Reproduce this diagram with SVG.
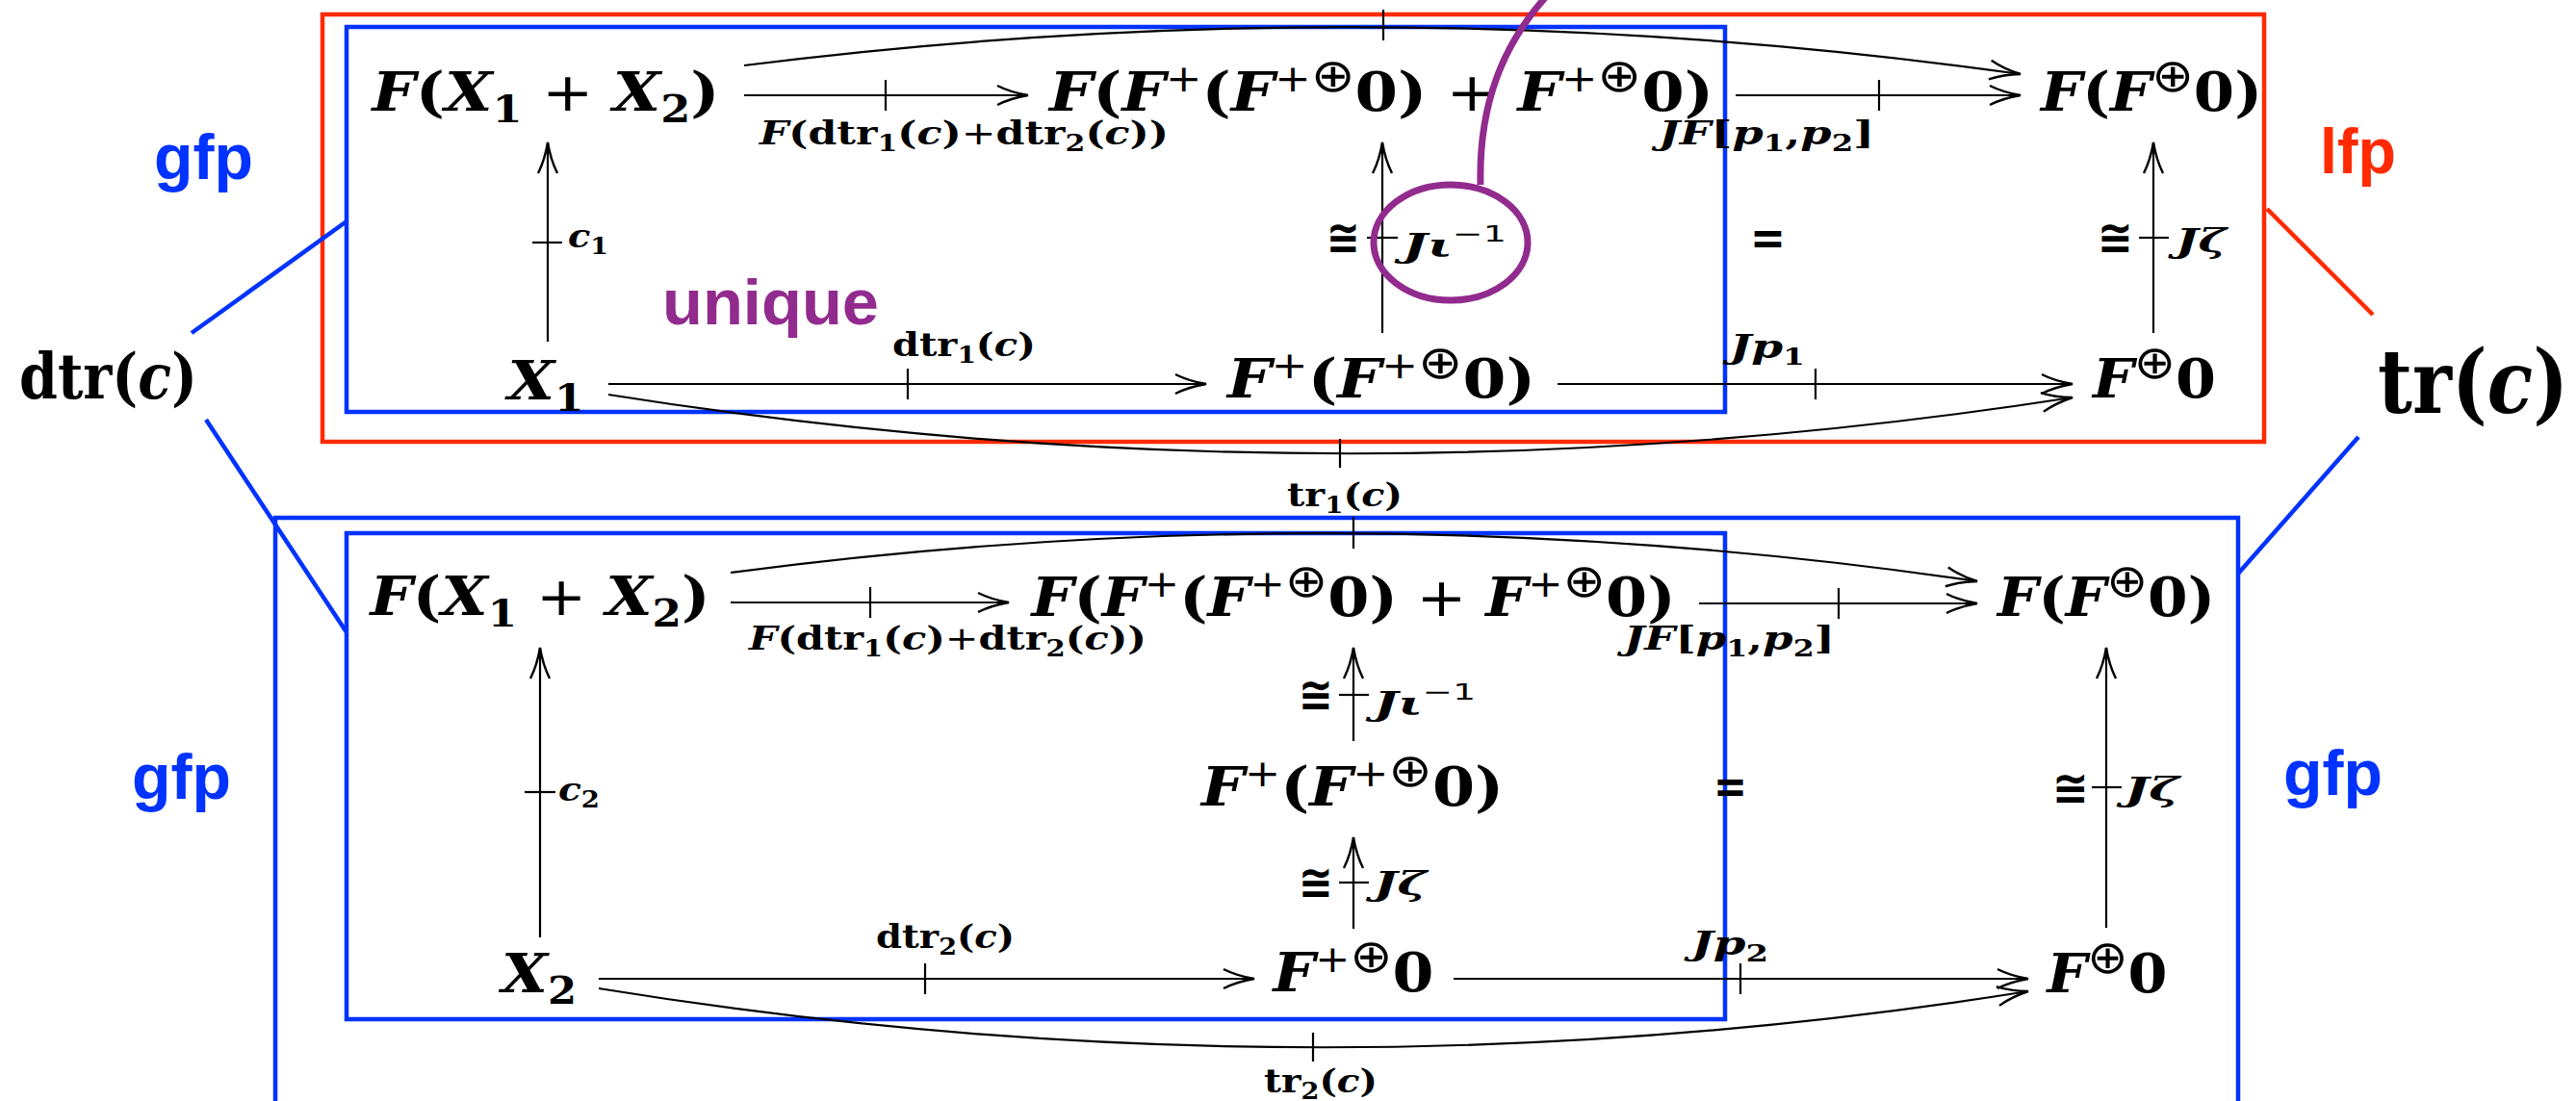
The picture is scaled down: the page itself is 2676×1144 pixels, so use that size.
<svg xmlns="http://www.w3.org/2000/svg" width="2676" height="1144" viewBox="0 0 2676 1144">
<defs>
<style>
text{font-family:"DejaVu Serif","Liberation Serif",serif;font-weight:bold;fill:#000}
.i{font-style:italic}
.node{font-size:56px}
.lbl{font-size:34px}
.s{font-size:0.7em}
.o{font-family:"DejaVu Sans",sans-serif;font-weight:normal}
.ox{font-family:"DejaVu Sans",sans-serif;font-weight:normal;font-size:48px}
.cong{font-family:"DejaVu Sans",sans-serif;font-weight:bold;font-size:50px}
.big{font-family:"Liberation Sans",Arial,sans-serif;font-weight:bold;font-size:66px}
.ar{fill:none;stroke:#000;stroke-width:2.2}
.box{fill:none;stroke-width:4.5}
.red{stroke:#FF2A00}
.blue{stroke:#0033FF}
</style>
<marker id="ah" markerUnits="userSpaceOnUse" markerWidth="40" markerHeight="30" viewBox="-36 -15 40 30" refX="0" refY="0" orient="auto" overflow="visible">
<path d="M-32,-10 C-18,-3 -6,-1 0,0 C-6,1 -18,3 -32,10" fill="none" stroke="#000" stroke-width="2.4"/>
</marker>
</defs>
<rect width="2676" height="1144" fill="#fff"/>

<g id="frames">
<rect class="box red" x="335" y="15" width="2017" height="444"/>
<rect class="box blue" x="360" y="28" width="1432" height="400"/>
<rect class="box blue" x="286" y="538" width="2039" height="640"/>
<rect class="box blue" x="360" y="554" width="1432" height="505"/>
<line class="box blue" x1="199" y1="346" x2="360" y2="230"/>
<line class="box blue" x1="214" y1="436" x2="360" y2="657"/>
<line class="box red" x1="2355" y1="217" x2="2465" y2="327"/>
<line class="box blue" x1="2450" y1="454" x2="2325" y2="596"/>
</g>

<g id="tags">
<text class="big" x="160" y="186" style="fill:#0033FF" textLength="103" lengthAdjust="spacingAndGlyphs">gfp</text>
<text class="big" x="2410" y="180" style="fill:#FF2A00" textLength="79" lengthAdjust="spacingAndGlyphs">lfp</text>
<text class="big" x="137" y="830" style="fill:#0033FF" textLength="103" lengthAdjust="spacingAndGlyphs">gfp</text>
<text class="big" x="2372" y="826" style="fill:#0033FF" textLength="103" lengthAdjust="spacingAndGlyphs">gfp</text>
<text class="big" x="688" y="337" style="fill:#922B8E" textLength="225" lengthAdjust="spacingAndGlyphs">unique</text>
<text x="20" y="414" style="font-size:66px" textLength="185" lengthAdjust="spacingAndGlyphs">dtr(<tspan class="i">c</tspan>)</text>
<text x="2470" y="429" style="font-size:92px" textLength="198" lengthAdjust="spacingAndGlyphs">tr(<tspan class="i">c</tspan>)</text>
</g>

<g id="node-top-FX">
<text class="node" x="567" y="115" text-anchor="middle" textLength="361" lengthAdjust="spacingAndGlyphs"><tspan class="i">F</tspan>(<tspan class="i">X</tspan><tspan class="s" dy="12">1</tspan><tspan dy="-12" class="o"> + </tspan><tspan class="i">X</tspan><tspan class="s" dy="12">2</tspan><tspan dy="-12">)</tspan></text>
</g>
<g id="node-top-FF">
<text class="node" x="1435" y="115" text-anchor="middle" textLength="690" lengthAdjust="spacingAndGlyphs"><tspan class="i">F</tspan>(<tspan class="i">F</tspan><tspan class="s o" dy="-20">+</tspan><tspan dy="20">(</tspan><tspan class="i">F</tspan><tspan class="s o" dy="-20">+</tspan><tspan class="ox">⊕</tspan><tspan dy="20">0)</tspan><tspan class="o"> + </tspan><tspan class="i">F</tspan><tspan class="s o" dy="-20">+</tspan><tspan class="ox">⊕</tspan><tspan dy="20">0)</tspan></text>
</g>
<g id="node-top-FF0">
<text class="node" x="2235" y="115" text-anchor="middle" textLength="230" lengthAdjust="spacingAndGlyphs"><tspan class="i">F</tspan>(<tspan class="i">F</tspan><tspan class="ox" dy="-20">⊕</tspan><tspan dy="20">0)</tspan></text>
</g>
<g id="node-top-X1">
<text class="node" x="567" y="415" text-anchor="middle" textLength="79" lengthAdjust="spacingAndGlyphs"><tspan class="i">X</tspan><tspan class="s" dy="12">1</tspan></text>
</g>
<g id="node-top-Fp">
<text class="node" x="1435" y="413" text-anchor="middle" textLength="320" lengthAdjust="spacingAndGlyphs"><tspan class="i">F</tspan><tspan class="s o" dy="-20">+</tspan><tspan dy="20">(</tspan><tspan class="i">F</tspan><tspan class="s o" dy="-20">+</tspan><tspan class="ox">⊕</tspan><tspan dy="20">0)</tspan></text>
</g>
<g id="node-top-F0">
<text class="node" x="2238" y="413" text-anchor="middle" textLength="128" lengthAdjust="spacingAndGlyphs"><tspan class="i">F</tspan><tspan class="ox" dy="-20">⊕</tspan><tspan dy="20">0</tspan></text>
</g>

<g id="node-bot-FX">
<text class="node" x="561" y="639" text-anchor="middle" textLength="353" lengthAdjust="spacingAndGlyphs"><tspan class="i">F</tspan>(<tspan class="i">X</tspan><tspan class="s" dy="12">1</tspan><tspan dy="-12" class="o"> + </tspan><tspan class="i">X</tspan><tspan class="s" dy="12">2</tspan><tspan dy="-12">)</tspan></text>
</g>
<g id="node-bot-FF">
<text class="node" x="1406" y="640" text-anchor="middle" textLength="669" lengthAdjust="spacingAndGlyphs"><tspan class="i">F</tspan>(<tspan class="i">F</tspan><tspan class="s o" dy="-20">+</tspan><tspan dy="20">(</tspan><tspan class="i">F</tspan><tspan class="s o" dy="-20">+</tspan><tspan class="ox">⊕</tspan><tspan dy="20">0)</tspan><tspan class="o"> + </tspan><tspan class="i">F</tspan><tspan class="s o" dy="-20">+</tspan><tspan class="ox">⊕</tspan><tspan dy="20">0)</tspan></text>
</g>
<g id="node-bot-FF0">
<text class="node" x="2188" y="640" text-anchor="middle" textLength="226" lengthAdjust="spacingAndGlyphs"><tspan class="i">F</tspan>(<tspan class="i">F</tspan><tspan class="ox" dy="-20">⊕</tspan><tspan dy="20">0)</tspan></text>
</g>
<g id="node-bot-Fp">
<text class="node" x="1405" y="837" text-anchor="middle" textLength="314" lengthAdjust="spacingAndGlyphs"><tspan class="i">F</tspan><tspan class="s o" dy="-20">+</tspan><tspan dy="20">(</tspan><tspan class="i">F</tspan><tspan class="s o" dy="-20">+</tspan><tspan class="ox">⊕</tspan><tspan dy="20">0)</tspan></text>
</g>
<g id="node-bot-X2">
<text class="node" x="560" y="1031" text-anchor="middle" textLength="78" lengthAdjust="spacingAndGlyphs"><tspan class="i">X</tspan><tspan class="s" dy="12">2</tspan></text>
</g>
<g id="node-bot-Fp0">
<text class="node" x="1406" y="1030" text-anchor="middle" textLength="167" lengthAdjust="spacingAndGlyphs"><tspan class="i">F</tspan><tspan class="s o" dy="-20">+</tspan><tspan class="ox">⊕</tspan><tspan dy="20">0</tspan></text>
</g>
<g id="node-bot-F0">
<text class="node" x="2189" y="1031" text-anchor="middle" textLength="125" lengthAdjust="spacingAndGlyphs"><tspan class="i">F</tspan><tspan class="ox" dy="-20">⊕</tspan><tspan dy="20">0</tspan></text>
</g>

<g id="connectors">
<line class="ar" x1="773" y1="99" x2="1068" y2="99" marker-end="url(#ah)"/>
<line class="ar" x1="920" y1="83" x2="920" y2="115"/>
<line class="ar" x1="1803" y1="99" x2="2099" y2="99" marker-end="url(#ah)"/>
<line class="ar" x1="1952" y1="83" x2="1952" y2="115"/>
<line class="ar" x1="632" y1="399" x2="1253" y2="399" marker-end="url(#ah)"/>
<line class="ar" x1="943" y1="383" x2="943" y2="415"/>
<line class="ar" x1="1618" y1="399" x2="2153" y2="399" marker-end="url(#ah)"/>
<line class="ar" x1="1886" y1="383" x2="1886" y2="415"/>
<path class="ar" d="M773,68 Q1437,-16 2099,77" marker-end="url(#ah)"/>
<line class="ar" x1="1437" y1="10" x2="1437" y2="42"/>
<path class="ar" d="M632,410 Q1392,531 2153,413" marker-end="url(#ah)"/>
<line class="ar" x1="1392" y1="456" x2="1392" y2="486"/>
<line class="ar" x1="569" y1="355" x2="569" y2="148" marker-end="url(#ah)"/>
<line class="ar" x1="553" y1="252" x2="584" y2="252"/>
<line class="ar" x1="1436" y1="346" x2="1436" y2="148" marker-end="url(#ah)"/>
<line class="ar" x1="1420" y1="247" x2="1452" y2="247"/>
<line class="ar" x1="2237" y1="346" x2="2237" y2="148" marker-end="url(#ah)"/>
<line class="ar" x1="2222" y1="247" x2="2253" y2="247"/>
<line class="ar" x1="759" y1="626" x2="1048" y2="626" marker-end="url(#ah)"/>
<line class="ar" x1="904" y1="610" x2="904" y2="642"/>
<line class="ar" x1="1765" y1="627" x2="2054" y2="627" marker-end="url(#ah)"/>
<line class="ar" x1="1910" y1="611" x2="1910" y2="643"/>
<line class="ar" x1="622" y1="1017" x2="1303" y2="1017" marker-end="url(#ah)"/>
<line class="ar" x1="961" y1="1001" x2="961" y2="1033"/>
<line class="ar" x1="1510" y1="1017" x2="2107" y2="1017" marker-end="url(#ah)"/>
<line class="ar" x1="1808" y1="1001" x2="1808" y2="1033"/>
<path class="ar" d="M759,595 Q1406,509 2054,604" marker-end="url(#ah)"/>
<line class="ar" x1="1406" y1="537" x2="1406" y2="570"/>
<path class="ar" d="M622,1027 Q1364,1148 2107,1030" marker-end="url(#ah)"/>
<line class="ar" x1="1364" y1="1073" x2="1364" y2="1103"/>
<line class="ar" x1="561" y1="974" x2="561" y2="673" marker-end="url(#ah)"/>
<line class="ar" x1="545" y1="823" x2="577" y2="823"/>
<line class="ar" x1="1406" y1="770" x2="1406" y2="673" marker-end="url(#ah)"/>
<line class="ar" x1="1391" y1="722" x2="1422" y2="722"/>
<line class="ar" x1="1406" y1="965" x2="1406" y2="870" marker-end="url(#ah)"/>
<line class="ar" x1="1391" y1="917" x2="1422" y2="917"/>
<line class="ar" x1="2188" y1="964" x2="2188" y2="673" marker-end="url(#ah)"/>
<line class="ar" x1="2173" y1="818" x2="2204" y2="818"/>
</g>

<g id="labels">
<text class="lbl" x="789" y="150" textLength="425" lengthAdjust="spacingAndGlyphs"><tspan class="i">F</tspan>(dtr<tspan class="s" dy="7">1</tspan><tspan dy="-7">(</tspan><tspan class="i">c</tspan>)<tspan class="o">+</tspan>dtr<tspan class="s" dy="7">2</tspan><tspan dy="-7">(</tspan><tspan class="i">c</tspan>))</text>
<text class="lbl" x="1723" y="150" textLength="224" lengthAdjust="spacingAndGlyphs"><tspan class="i">JF</tspan>[<tspan class="i">p</tspan><tspan class="s" dy="7">1</tspan><tspan dy="-7">,</tspan><tspan class="i">p</tspan><tspan class="s" dy="7">2</tspan><tspan dy="-7">]</tspan></text>
<text class="lbl" x="927" y="370" textLength="149" lengthAdjust="spacingAndGlyphs">dtr<tspan class="s" dy="7">1</tspan><tspan dy="-7">(</tspan><tspan class="i">c</tspan>)</text>
<text class="lbl" x="1797" y="372" textLength="78" lengthAdjust="spacingAndGlyphs"><tspan class="i">Jp</tspan><tspan class="s" dy="7">1</tspan></text>
<text class="lbl" x="1397" y="526" text-anchor="middle" textLength="120" lengthAdjust="spacingAndGlyphs">tr<tspan class="s" dy="7">1</tspan><tspan dy="-7">(</tspan><tspan class="i">c</tspan>)</text>
<text class="lbl" x="590" y="257" textLength="42" lengthAdjust="spacingAndGlyphs"><tspan class="i">c</tspan><tspan class="s" dy="7">1</tspan></text>
<text class="cong" x="1378" y="264" textLength="35" lengthAdjust="spacingAndGlyphs">≅</text>
<text class="lbl" x="1457" y="267" textLength="108" lengthAdjust="spacingAndGlyphs"><tspan class="i">Jι</tspan><tspan class="s o" dy="-16">−1</tspan></text>
<text class="cong" x="1818" y="264" textLength="37" lengthAdjust="spacingAndGlyphs">=</text>
<text class="cong" x="2179" y="264" textLength="37" lengthAdjust="spacingAndGlyphs">≅</text>
<text class="lbl" x="2260" y="262" textLength="53" lengthAdjust="spacingAndGlyphs"><tspan class="i">Jζ</tspan></text>

<text class="lbl" x="778" y="675" textLength="413" lengthAdjust="spacingAndGlyphs"><tspan class="i">F</tspan>(dtr<tspan class="s" dy="7">1</tspan><tspan dy="-7">(</tspan><tspan class="i">c</tspan>)<tspan class="o">+</tspan>dtr<tspan class="s" dy="7">2</tspan><tspan dy="-7">(</tspan><tspan class="i">c</tspan>))</text>
<text class="lbl" x="1687" y="675" textLength="219" lengthAdjust="spacingAndGlyphs"><tspan class="i">JF</tspan>[<tspan class="i">p</tspan><tspan class="s" dy="7">1</tspan><tspan dy="-7">,</tspan><tspan class="i">p</tspan><tspan class="s" dy="7">2</tspan><tspan dy="-7">]</tspan></text>
<text class="lbl" x="910" y="985" textLength="144" lengthAdjust="spacingAndGlyphs">dtr<tspan class="s" dy="7">2</tspan><tspan dy="-7">(</tspan><tspan class="i">c</tspan>)</text>
<text class="lbl" x="1757" y="992" textLength="80" lengthAdjust="spacingAndGlyphs"><tspan class="i">Jp</tspan><tspan class="s" dy="7">2</tspan></text>
<text class="lbl" x="1372" y="1135" text-anchor="middle" textLength="118" lengthAdjust="spacingAndGlyphs">tr<tspan class="s" dy="7">2</tspan><tspan dy="-7">(</tspan><tspan class="i">c</tspan>)</text>
<text class="lbl" x="580" y="832" textLength="43" lengthAdjust="spacingAndGlyphs"><tspan class="i">c</tspan><tspan class="s" dy="7">2</tspan></text>
<text class="cong" x="1349" y="739" textLength="36" lengthAdjust="spacingAndGlyphs">≅</text>
<text class="lbl" x="1427" y="743" textLength="106" lengthAdjust="spacingAndGlyphs"><tspan class="i">Jι</tspan><tspan class="s o" dy="-16">−1</tspan></text>
<text class="cong" x="1349" y="934" textLength="36" lengthAdjust="spacingAndGlyphs">≅</text>
<text class="lbl" x="1427" y="930" textLength="55" lengthAdjust="spacingAndGlyphs"><tspan class="i">Jζ</tspan></text>
<text class="cong" x="1780" y="834" textLength="35" lengthAdjust="spacingAndGlyphs">=</text>
<text class="cong" x="2132" y="836" textLength="38" lengthAdjust="spacingAndGlyphs">≅</text>
<text class="lbl" x="2207" y="832" textLength="57" lengthAdjust="spacingAndGlyphs"><tspan class="i">Jζ</tspan></text>
</g>

<g id="annotation">
<ellipse cx="1507" cy="252" rx="80" ry="60" fill="none" stroke="#922B8E" stroke-width="7"/>
<path d="M1538,192 C1536,110 1560,45 1612,-10" fill="none" stroke="#922B8E" stroke-width="7"/>
</g>
</svg>
